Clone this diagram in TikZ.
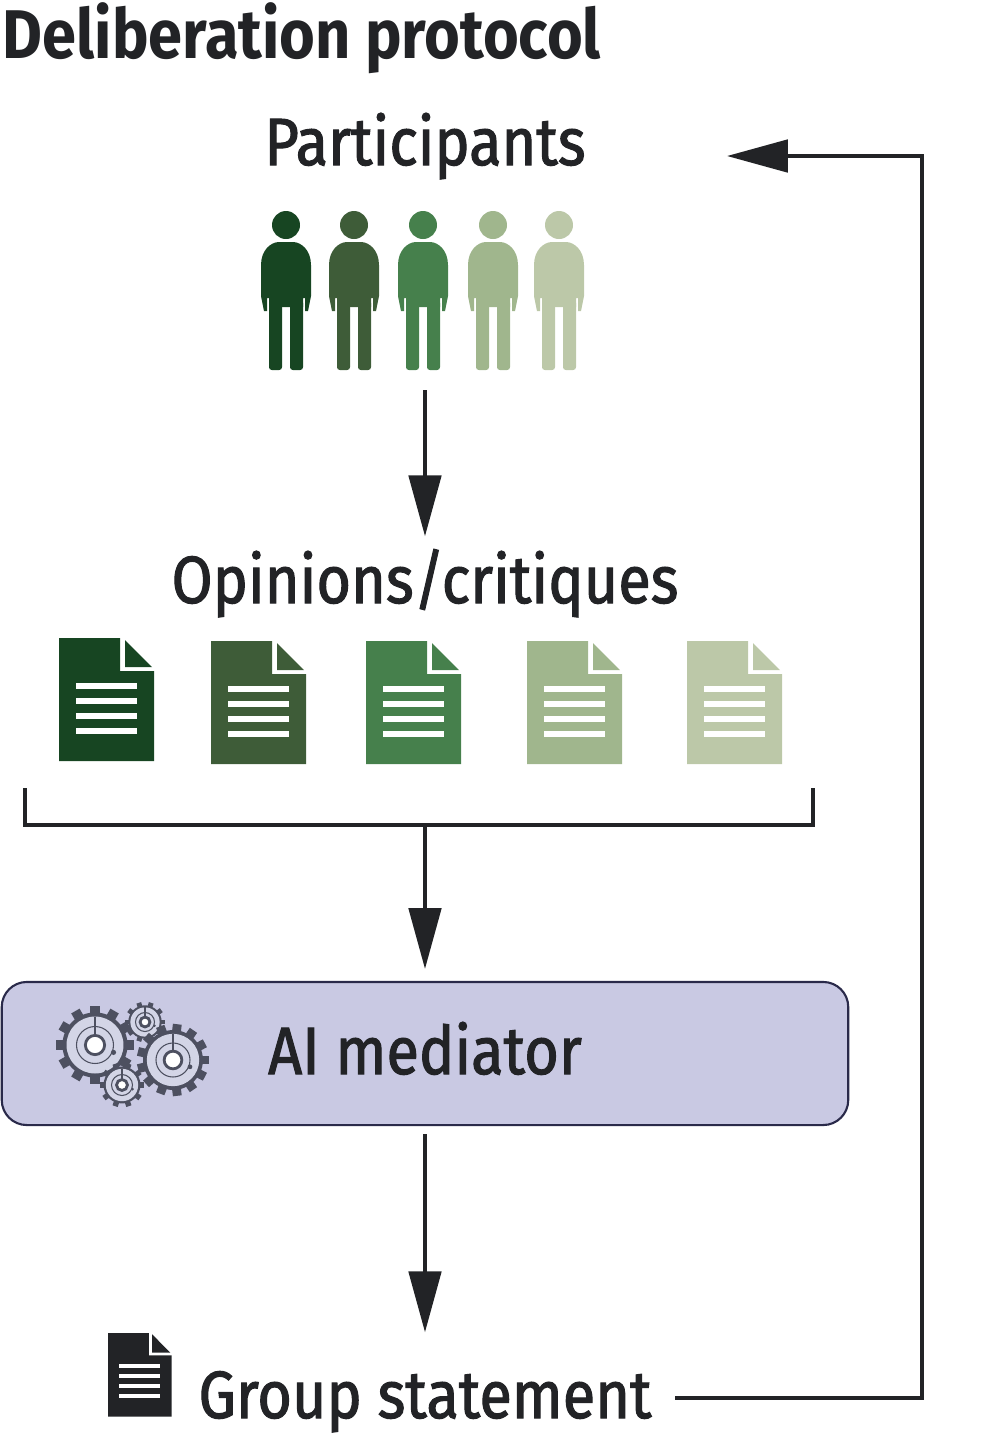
\documentclass[tikz,border=0pt]{standalone}
\usepackage{fontspec}
\newfontfamily\labelfont{Fira Sans}[FakeStretch=0.89, FakeBold=1.6]
\newfontfamily\titlefont{Fira Sans Bold}[FakeStretch=0.89]
\usetikzlibrary{arrows.meta}
\definecolor{ink}{HTML}{222326}
\definecolor{greenA}{HTML}{174522}
\definecolor{greenB}{HTML}{3E5C38}
\definecolor{greenC}{HTML}{46804C}
\definecolor{greenD}{HTML}{A0B68D}
\definecolor{greenE}{HTML}{BCC8A8}
\definecolor{panel}{HTML}{C9C9E3}
\definecolor{panelline}{HTML}{2A2A4A}
\definecolor{gearcol}{HTML}{4D5060}
\definecolor{gearface}{HTML}{D3D5E6}
\tikzset{
    flow/.style={draw=ink, line width=3.8*0.2845pt, -{Triangle[length=17.3pt, width=9.2pt]}},
    plainline/.style={draw=ink, line width=3.2*0.2845pt},
    lab/.style={inner sep=0pt, text=ink, font=\labelfont\fontsize{19}{22}\selectfont, anchor=base, text depth=0pt},
}
\newcommand{\person}[2]{% x, colour
    \begin{scope}[shift={(#1,0)}]
        \fill[#2] (0, 225) circle [radius=14];
        \fill[#2] (-25, 265) .. controls (-25, 250) and (-15, 242) .. (-7, 242) -- (7, 242)
            .. controls (15, 242) and (25, 250) .. (25, 265) -- (25, 296) -- (22, 311) -- (19, 311)
            -- (19, 298) -- (17, 298) -- (17, 307) -- (-17, 307) -- (-17, 298) -- (-19, 298)
            -- (-19, 311) -- (-22, 311) -- (-25, 296) -- cycle;
        \fill[#2, rounded corners=0.8pt] (-17, 300) rectangle (-4, 370);
        \fill[#2, rounded corners=0.8pt] (4, 300) rectangle (17, 370);
    \end{scope}
}
\newcommand{\docicon}[5]{% x, y, xscale, yscale, colour
    \begin{scope}[shift={(#1,#2)}, xscale=#3, yscale=#4]
        \fill[#5] (0, 0) -- (61, 0) -- (61, 33) -- (95, 33) -- (95, 123) -- (0, 123) -- cycle;
        \fill[#5] (66, 2) -- (93, 29) -- (66, 29) -- cycle;
        \foreach \liney in {48, 63, 78, 93} {
            \fill[white] (17, \liney-3) rectangle (78, \liney+3);
        }
    \end{scope}
}
\newcommand{\gearicon}[4]{% x, y, r, teeth
    \begin{scope}[shift={(#1,#2)}]
        \foreach \k in {1,...,#4} {
            \fill[gearcol, rotate=\k*360/#4] (#3*0.8, -#3*0.13) rectangle (#3*1.06, #3*0.13);
        }
        \fill[gearcol] (0, 0) circle [radius=#3*0.88];
        \fill[gearface] (0, 0) circle [radius=#3*0.77];
        \draw[gearcol, line width=0.3pt] (0, 0) circle [radius=#3*0.5];
        \draw[gearcol, line width=0.3pt] (0, -#3*0.77) -- (0, -#3*0.3);
        \fill[gearcol] (#3*0.5, #3*0.2) circle [radius=#3*0.07];
        \draw[gearcol, line width=0.8pt, fill=white] (0, 0) circle [radius=#3*0.26];
    \end{scope}
}
\begin{document}
\begin{tikzpicture}[x=0.01cm, y=-0.01cm]
    \useasboundingbox (0, 0) rectangle (1002, 1447);
    \node[lab, anchor=base west, font=\titlefont\fontsize{19.6}{24}\selectfont] (title) at (2, 58) {Deliberation protocol};
    \node[lab, text height=0.48cm] (participants) at (425, 165) {Participants};
    \person{286}{greenA}
    \person{354}{greenB}
    \person{423}{greenC}
    \person{493}{greenD}
    \person{559}{greenE}
    \coordinate (crowd) at (425, 390);
    \node[lab, text height=0.66cm] (opinions) at (425, 603) {Opinions/critiques};
    \draw[flow] (crowd) -- (opinions.north);
    \docicon{59}{638}{1}{1}{greenA}
    \docicon{211}{641}{1}{1}{greenB}
    \docicon{366}{641}{1}{1}{greenC}
    \docicon{527}{641}{1}{1}{greenD}
    \docicon{687}{641}{1}{1}{greenE}
    % bracket under the documents
    \coordinate (bracketleft) at (25, 788);
    \coordinate (bracketright) at (813, 788);
    \coordinate (bracketmid) at (425, 825);
    \draw[plainline] (bracketleft) |- (bracketmid) -| (bracketright);
    \node[draw=panelline, line width=0.6pt, fill=panel, rounded corners=0.25cm, minimum width=8.46cm,
        minimum height=1.43cm, inner sep=0pt] (mediator) at (425, 1053.5) {};
    \node[lab, anchor=center, text height=0.46cm] (mediatorlabel) at (425, 1051) {AI mediator};
    \draw[flow, shorten >=3.4pt] (bracketmid) -- (mediator.north);
    \gearicon{95}{1045}{37}{12}
    \gearicon{145}{1022}{19}{10}
    \gearicon{173}{1060}{34}{13}
    \gearicon{122}{1085}{21}{10}
    \docicon{108}{1333}{0.67}{0.68}{ink}
    \node[lab, text height=0.85cm] (statement) at (425, 1418) {Group statement};
    \draw[flow, shorten <=2.3pt] (mediator.south) -- (statement.north);
    % loop back to the top
    \coordinate (loopout) at (675, 1398);
    \coordinate (loopin) at (727, 156);
    \coordinate (loopcorner) at (922, 1398);
    \draw[flow] (loopout) -- (loopcorner) |- (loopin);
\end{tikzpicture}
\end{document}
